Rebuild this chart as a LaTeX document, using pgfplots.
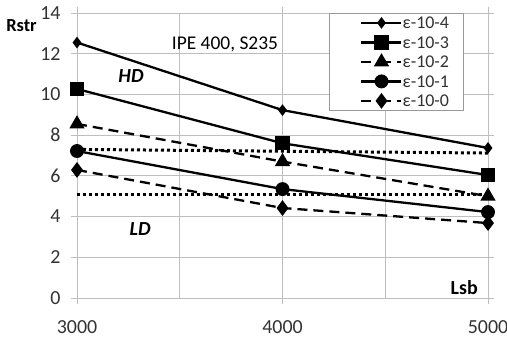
\documentclass[border=0pt]{standalone}
\usepackage{fontspec}
\setmainfont{Carlito}
\usepackage{pgfplots}
\pgfplotsset{compat=1.18}
\definecolor{gridc}{RGB}{190,190,190}
\definecolor{tickc}{RGB}{50,50,50}
\begin{document}
\begin{tikzpicture}
\begin{axis}[
  scale only axis,
  width=411bp, height=285bp,
  xmin=3000, xmax=5000, ymin=0, ymax=14,
  xtick={3000,4000,5000},
  minor xtick={3500,4500},
  ytick={0,2,...,14},
  grid=both,
  grid style={gridc, line width=0.8bp},
  minor grid style={gridc, line width=0.8bp},
  axis line style={gridc, line width=0.8bp},
  tick align=outside,
  major tick length=6bp,
  minor tick length=0pt,
  tick style={gridc, line width=0.8bp},
  /pgf/number format/assume math mode=true,
  /pgf/number format/1000 sep={},
  ticklabel style={font=\fontsize{20}{23}\selectfont, text=tickc},
  xticklabel style={yshift=-13bp},
  yticklabel style={xshift=-7bp},
  clip=false,
  legend style={at={(0.613,1.0)}, anchor=north west, draw=gray!80, line width=0.8bp,
    text=tickc, row sep=1.5bp, inner xsep=3bp, inner ysep=0.5bp,
    nodes={inner sep=0pt, text height=15bp, text depth=3bp, font=\fontsize{18}{20}\selectfont},
    /tikz/every even column/.append style={column sep=3bp}},
  legend cell align=left,
  legend image code/.code={\path (-28bp,0bp); \draw[#1] (0bp,0bp) -- (20bp,0bp) plot coordinates {(20bp,0bp)} -- (40bp,0bp);},
  every axis plot/.append style={black, line width=2.3bp},
]
\addplot[mark=diamond*, mark size=4bp, mark options={solid}] coordinates {(3000,12.55) (4000,9.23) (5000,7.37)};
\addlegendentry{ε-10-4\hspace*{11bp}}
\addplot[mark=square*, mark size=6bp, mark options={solid}] coordinates {(3000,10.27) (4000,7.6) (5000,6.04)};
\addlegendentry{ε-10-3}
\addplot[dash pattern=on 10bp off 6bp, mark=triangle*, mark size=6.5bp, mark options={solid}] coordinates {(3000,8.55) (4000,6.7) (5000,5.0)};
\addlegendentry{ε-10-2}
\addplot[mark=*, mark size=5.8bp, mark options={solid}] coordinates {(3000,7.22) (4000,5.35) (5000,4.22)};
\addlegendentry{ε-10-1}
\addplot[dash pattern=on 10bp off 6bp, mark=diamond*, mark size=6bp, mark options={solid}] coordinates {(3000,6.29) (4000,4.42) (5000,3.68)};
\addlegendentry{ε-10-0}
\addplot[line width=3bp, dash pattern=on 3bp off 3bp, forget plot] coordinates {(3000,7.3) (5000,7.12)};
\addplot[line width=3bp, dash pattern=on 3bp off 3bp, forget plot] coordinates {(3000,5.06) (5000,5.06)};
\node[font=\fontsize{19.5}{22}\selectfont] at (axis cs:3720,12.45) {IPE 400, S235};
\node[font=\fontsize{20}{23}\selectfont\bfseries\itshape] at (axis cs:3263,10.9) {HD};
\node[font=\fontsize{20}{23}\selectfont\bfseries\itshape] at (axis cs:3307,3.39) {LD};
\node[font=\fontsize{20}{23}\selectfont\bfseries, anchor=east, inner sep=0pt] at (axis cs:4951,0.49) {Lsb};
\node[font=\fontsize{18.5}{20}\selectfont\bfseries, anchor=east, inner sep=0pt] at (axis cs:2805,13.4) {Rstr};
\end{axis}
\pgfresetboundingbox
\path ([shift={(-77bp,-46bp)}]current axis.south west) rectangle ([shift={(19bp,13bp)}]current axis.north east);
\end{tikzpicture}
\end{document}
